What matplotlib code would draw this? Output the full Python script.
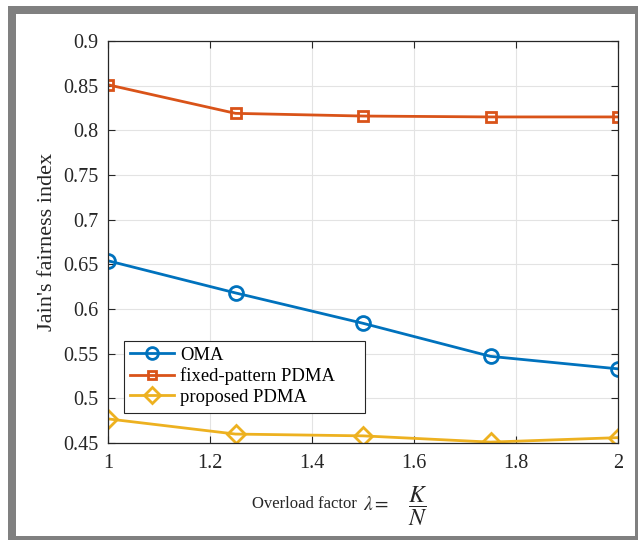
import matplotlib.pyplot as plt
from matplotlib.patches import Rectangle

# data
overload = [1, 1.25, 1.5, 1.75, 2]
oma = [0.654, 0.618, 0.584, 0.547, 0.533]
fixed_pdma = [0.851, 0.819, 0.816, 0.815, 0.815]
proposed_pdma = [0.477, 0.460, 0.458, 0.451, 0.456]

plt.rcParams['font.family'] = ['Liberation Serif', 'DejaVu Serif']
plt.rcParams['mathtext.fontset'] = 'stix'

W, H = 638, 540
fig = plt.figure(figsize=(W / 100, H / 100), dpi=100)

# gray frame around the figure (as in the exported picture)
fig.patches.append(Rectangle((8 / W, 0), 1 - 8 / W, 1 - 6 / H, transform=fig.transFigure,
                             facecolor='#808080', edgecolor='none', zorder=-10))
fig.patches.append(Rectangle((16 / W, 4 / H), (635 - 16) / W, (536 - 14) / H,
                             transform=fig.transFigure, facecolor='white',
                             edgecolor='none', zorder=-9))

ax = fig.add_axes([108 / W, 1 - 443 / H, (618 - 108) / W, (443 - 41) / H])
ax.set_facecolor('white')

ax.plot(overload, oma, color='#0072BD', lw=2, marker='o', ms=10,
        mfc='none', mew=2, label='OMA')
ax.plot(overload, fixed_pdma, color='#D95319', lw=2, marker='s', ms=7,
        mfc='none', mew=2, label='fixed-pattern PDMA')
ax.plot(overload, proposed_pdma, color='#EDB120', lw=2, marker='D', ms=9,
        mfc='none', mew=2, label='proposed PDMA')

ax.set_xlim(1, 2)
ax.set_ylim(0.45, 0.9)
ax.set_xticks([1, 1.2, 1.4, 1.6, 1.8, 2])
ax.set_xticklabels(['1', '1.2', '1.4', '1.6', '1.8', '2'])
yt = [0.45, 0.5, 0.55, 0.6, 0.65, 0.7, 0.75, 0.8, 0.85, 0.9]
ax.set_yticks(yt)
ax.set_yticklabels(['%g' % v for v in yt])
ax.tick_params(direction='in', top=True, right=True, labelsize=14.5,
               length=5, width=0.8, colors='#262626')
ax.tick_params(axis='y', pad=7)
ax.tick_params(axis='x', pad=8)
ax.grid(True, color='#e3e3e3', lw=0.8)
ax.set_axisbelow(True)
for s in ax.spines.values():
    s.set_color('#262626')
    s.set_linewidth(0.9)

ax.set_ylabel("Jain's fairness index", fontsize=16, color='#262626', labelpad=4)

ax.text(0.385, -0.152, 'Overload factor', transform=ax.transAxes, fontsize=12,
        ha='center', va='center', color='#262626')
ax.text(0.5, -0.155, r'$\lambda =$', transform=ax.transAxes,
        fontsize=14, ha='left', va='center', color='#262626')
ax.text(0.607, -0.157, r'$\dfrac{K}{N}$', transform=ax.transAxes,
        fontsize=17, ha='center', va='center', color='#262626')

# legend (MATLAB-like box with wide right margin)
x0, x1 = (124 - 108) / 510, (365 - 108) / 510
y0, y1 = (443 - 413) / 402, (443 - 341) / 402
leg = ax.legend(loc='upper left', bbox_to_anchor=(x0, y1), fontsize=13.4,
                frameon=False, handlelength=2.4, borderpad=0.3,
                labelspacing=0.2, handletextpad=0.3, borderaxespad=0,
                markerscale=0.85)
ax.add_patch(Rectangle((x0, y0), x1 - x0, y1 - y0, transform=ax.transAxes,
                       facecolor='white', edgecolor='#262626', lw=0.8, zorder=4.9))
leg.set_zorder(5)

fig.savefig('out.png', dpi=100)
